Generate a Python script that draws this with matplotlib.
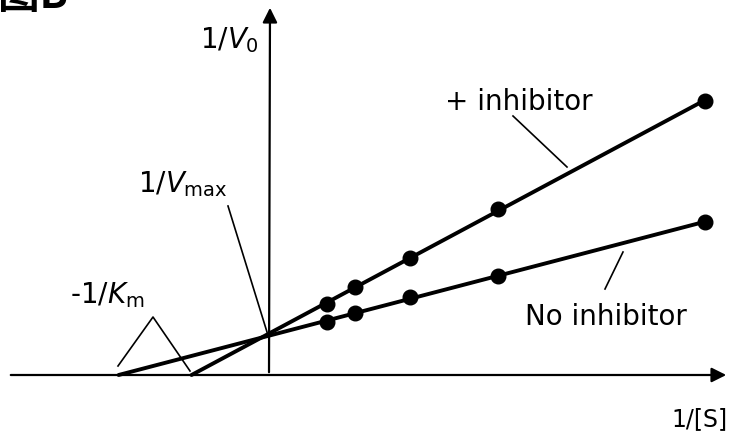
import numpy as np
import matplotlib
matplotlib.use("Agg")
import matplotlib.pyplot as plt

# Lineweaver-Burk data (arbitrary units)
inv_s = [1.16, 1.72, 2.82, 4.58, 8.72]
inv_v_no_inhibitor = [1.06, 1.24, 1.56, 1.98, 3.06]
inv_v_inhibitor = [1.42, 1.76, 2.34, 3.32, 5.48]

W, H = 736, 435
OX, OY, SCALE = 269, 376, 50.0  # pixel position of the origin, pixels per unit


def P(px, py):
    # pixel position in the picture -> data coordinates
    return (px - OX) / SCALE, (OY - py) / SCALE


plt.rcParams["font.family"] = ["DejaVu Sans"]
plt.rcParams["mathtext.fontset"] = "dejavusans"

fig = plt.figure(figsize=(W / 100, H / 100), dpi=100)
ax = fig.add_axes([0, 0, 1, 1])
ax.set_xlim(P(0, 0)[0], P(W, 0)[0])
ax.set_ylim(P(0, H)[1], P(0, 0)[1])
ax.set_axis_off()

# axes with arrow heads
ax.annotate("", xy=P(729, OY), xytext=P(8, OY),
            arrowprops=dict(arrowstyle="-|>", color="black", lw=1.6, mutation_scale=22))
ax.annotate("", xy=P(OX + 1, 6), xytext=P(OX, OY),
            arrowprops=dict(arrowstyle="-|>", color="black", lw=1.6, mutation_scale=22))

# fitted lines extended back to the x axis
for ys in (inv_v_no_inhibitor, inv_v_inhibitor):
    slope, icpt = np.polyfit(inv_s, ys, 1)
    x0 = -icpt / slope
    xx = np.array([x0, inv_s[-1]])
    ax.plot(xx, slope * xx + icpt, color="black", lw=2.8, solid_capstyle="round", zorder=3)
    ax.plot(inv_s, ys, "o", color="black", ms=10.5, zorder=4)

# leader lines
leaders = [
    [(228, 207), (267, 333)],
    [(118, 367), (153, 318), (190, 372)],
    [(513, 117), (567, 168)],
    [(605, 290), (623, 253)],
]
for pts in leaders:
    xy = np.array([P(*p) for p in pts])
    ax.plot(xy[:, 0], xy[:, 1], color="black", lw=1.2, zorder=2)

fs = 20
ax.text(*P(200, 48), r"1/$V_{\mathrm{0}}$", fontsize=fs, ha="left", va="baseline")
ax.text(*P(138, 192), r"1/$V_{\mathrm{max}}$", fontsize=fs, ha="left", va="baseline")
ax.text(*P(70, 303), r"-1/$K_{\mathrm{m}}$", fontsize=fs, ha="left", va="baseline")
ax.text(*P(445, 110), "+ inhibitor", fontsize=fs, ha="left", va="baseline")
ax.text(*P(525, 325), "No inhibitor", fontsize=fs, ha="left", va="baseline")
ax.text(*P(728, 426), "1/[S]", fontsize=17, ha="right", va="baseline")

# cropped panel label at the top-left corner
ax.text(*P(-2, 8), "图B", fontsize=30, fontweight="bold", ha="left", va="baseline",
        family=["Noto Sans CJK SC", "DejaVu Sans"])

fig.savefig("out.png", dpi=100)
